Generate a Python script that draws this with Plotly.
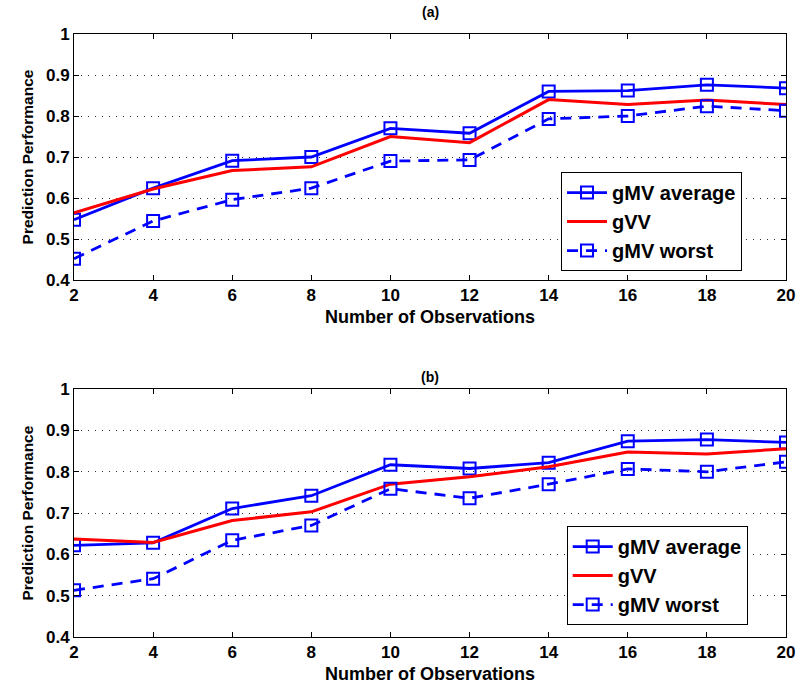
import plotly.graph_objects as go

x_obs = [2, 4, 6, 8, 10, 12, 14, 16, 18, 20]

# Panel (a)
a_gmv_avg = [0.547, 0.624, 0.691, 0.700, 0.770, 0.758, 0.860, 0.862, 0.876, 0.868]
a_gvv = [0.564, 0.622, 0.667, 0.676, 0.750, 0.735, 0.840, 0.828, 0.839, 0.828]
a_gmv_worst = [0.452, 0.544, 0.596, 0.624, 0.690, 0.693, 0.793, 0.800, 0.824, 0.813]

# Panel (b)
b_gmv_avg = [0.622, 0.628, 0.711, 0.742, 0.817, 0.808, 0.822, 0.874, 0.878, 0.871]
b_gvv = [0.637, 0.629, 0.682, 0.703, 0.770, 0.788, 0.812, 0.848, 0.843, 0.856]
b_gmv_worst = [0.513, 0.541, 0.634, 0.670, 0.759, 0.736, 0.770, 0.807, 0.800, 0.824]

series_names = ["gMV average", "gVV", "gMV worst"]
panel_titles = ["(a)", "(b)"]
y_ticks = [0.4, 0.5, 0.6, 0.7, 0.8, 0.9, 1.0]
y_ticktext = ["0.4", "0.5", "0.6", "0.7", "0.8", "0.9", "1"]

BLUE = "#0000FF"
RED = "#FF0000"
SANS = "Liberation Sans, Arial, sans-serif"

fig = go.Figure()

panels = [
    ("x", "y", "legend", a_gmv_avg, a_gvv, a_gmv_worst),
    ("x2", "y2", "legend2", b_gmv_avg, b_gvv, b_gmv_worst),
]

for xa, ya, lg, avg, gvv, worst in panels:
    fig.add_trace(go.Scatter(
        x=x_obs, y=avg, name=series_names[0], xaxis=xa, yaxis=ya, legend=lg,
        mode="lines+markers",
        line=dict(color=BLUE, width=2.8),
        marker=dict(symbol="square-open", size=12, color=BLUE, line=dict(width=2, color=BLUE)),
    ))
    fig.add_trace(go.Scatter(
        x=x_obs, y=gvv, name=series_names[1], xaxis=xa, yaxis=ya, legend=lg,
        mode="lines",
        line=dict(color=RED, width=3),
    ))
    fig.add_trace(go.Scatter(
        x=x_obs, y=worst, name=series_names[2], xaxis=xa, yaxis=ya, legend=lg,
        mode="lines+markers",
        line=dict(color=BLUE, width=2.8, dash="11px,8px"),
        marker=dict(symbol="square-open", size=12, color=BLUE, line=dict(width=2, color=BLUE)),
    ))

xaxis_common = dict(
    range=[2, 20], tickvals=x_obs, ticks="inside", ticklen=5, tickcolor="black",
    showline=True, linecolor="black", linewidth=1, mirror="ticks",
    showgrid=False, zeroline=False,
    tickfont=dict(family=SANS, size=17, color="black", weight="bold"),
    title=dict(text="Number of Observations", standoff=5,
               font=dict(family=SANS, size=18, color="black", weight="bold")),
)
yaxis_common = dict(
    range=[0.4, 1.0], tickvals=y_ticks, ticktext=y_ticktext, ticks="inside", ticklen=5,
    tickcolor="black",
    showline=True, linecolor="black", linewidth=1, mirror="ticks",
    showgrid=True, gridcolor="#333333", griddash="1px,6px", gridwidth=1, zeroline=False,
    tickfont=dict(family=SANS, size=17, color="black", weight="bold"),
    title=dict(text="Prediction Performance", standoff=8,
               font=dict(family=SANS, size=15.5, color="black", weight="bold")),
)

legend_font = dict(family=SANS, size=20, color="black", weight="bold")

fig.update_layout(
    width=806, height=693,
    margin=dict(l=74, r=11, t=34, b=56),
    paper_bgcolor="white", plot_bgcolor="white",
    xaxis=dict(domain=[0, 1], anchor="y", **xaxis_common),
    yaxis=dict(domain=[0.592, 1.0], anchor="x", **yaxis_common),
    xaxis2=dict(domain=[0, 1], anchor="y2", **xaxis_common),
    yaxis2=dict(domain=[0.0, 0.411], anchor="x2", **yaxis_common),
    legend=dict(x=0.684, y=0.771, xanchor="left", yanchor="top",
                bgcolor="white", bordercolor="black", borderwidth=1,
                font=legend_font, tracegroupgap=0, itemwidth=40),
    legend2=dict(x=0.692, y=0.184, xanchor="left", yanchor="top",
                 bgcolor="white", bordercolor="black", borderwidth=1,
                 font=legend_font, tracegroupgap=0, itemwidth=40),
    showlegend=True,
    annotations=[
        dict(text=panel_titles[0], x=0.5, y=1.0, xref="paper", yref="paper",
             xanchor="center", yanchor="bottom", yshift=12, showarrow=False,
             font=dict(family=SANS, size=14, color="black", weight="bold")),
        dict(text=panel_titles[1], x=0.5, y=0.411, xref="paper", yref="paper",
             xanchor="center", yanchor="bottom", yshift=2, showarrow=False,
             font=dict(family=SANS, size=14, color="black", weight="bold")),
    ],
)

fig.write_html("out.html")
